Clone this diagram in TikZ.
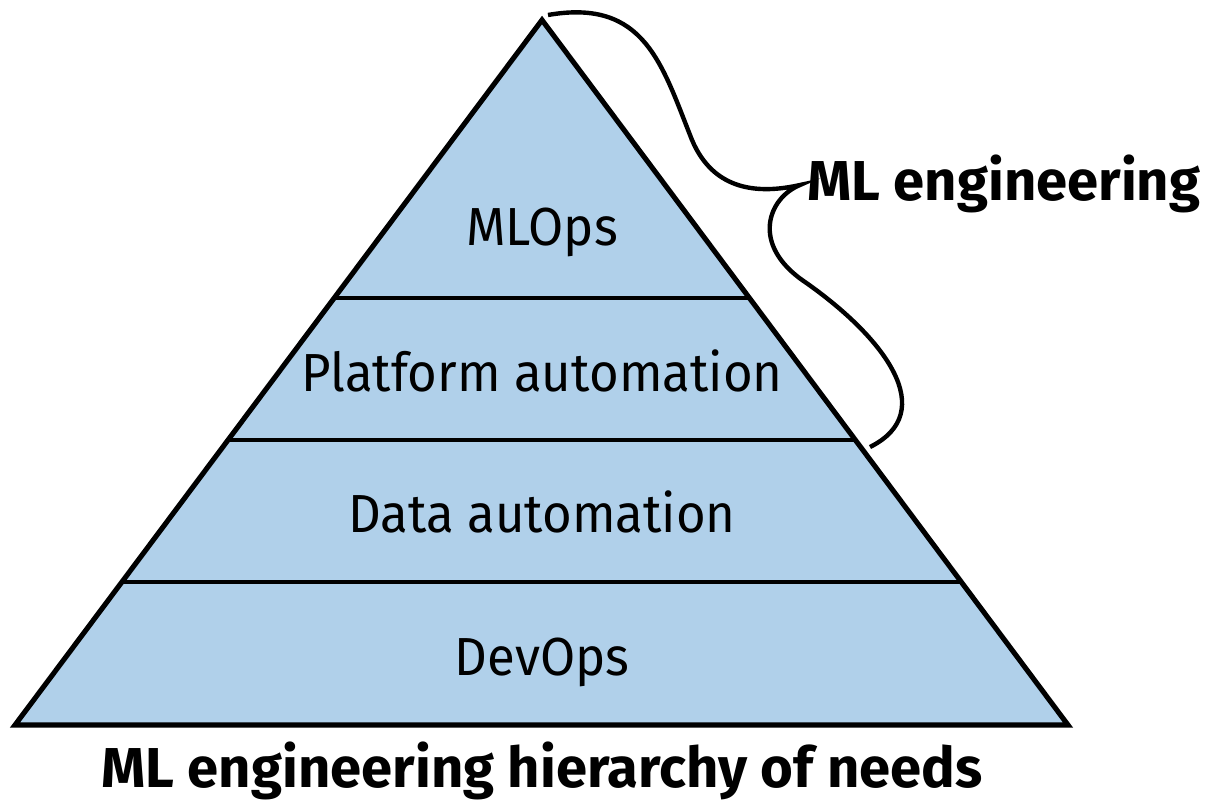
\documentclass[tikz,border=0pt]{standalone}
\usepackage{fontspec}
\setmainfont{Fira Sans}
\newfontfamily\layerfont[FakeStretch=0.95]{Fira Sans}
\usetikzlibrary{calc}
\definecolor{layerblue}{RGB}{176,208,234}

\begin{document}
\begin{tikzpicture}[
  x=0.02cm,
  y=-0.02cm,
  layertext/.style={
    font=\layerfont\fontsize{30.5}{36}\selectfont,
    inner sep=0pt,
    anchor=base
  },
  captiontext/.style={
    font=\fontsize{32}{38}\selectfont\bfseries,
    inner sep=0pt
  }
]
\useasboundingbox (0,0) rectangle (1217,801);
\coordinate (apex) at (542,20);
\coordinate (bl) at (15,725);
\coordinate (br) at (1068,725);
\filldraw[fill=layerblue, draw=black, line width=2.9pt] (apex) -- (br) -- (bl) -- cycle;
\foreach \t in {0.394,0.596,0.797}
  \draw[line width=2.3pt] ($(apex)!\t!(bl)$) -- ($(apex)!\t!(br)$);
\node[layertext] (mlops) at (542,245) {MLOps};
\node[layertext] (platform) at (542,391) {Platform automation};
\node[layertext] (data) at (542,532) {Data automation};
\node[layertext] (devops) at (542,675) {DevOps};
% brace along the top two layers
\draw[line width=2.5pt] (548,15) .. controls (645,-2) and (662,65) .. (692,140)
  .. controls (714,192) and (760,194) .. (800,185)
  .. controls (768,198) and (750,245) .. (805,282)
  .. controls (885,338) and (940,412) .. (870,447);
\node[captiontext, anchor=base west] (mleng) at (807,200) {ML engineering};
\node[captiontext, anchor=base] (title) at (542,787) {ML engineering hierarchy of needs};
\end{tikzpicture}
\end{document}
